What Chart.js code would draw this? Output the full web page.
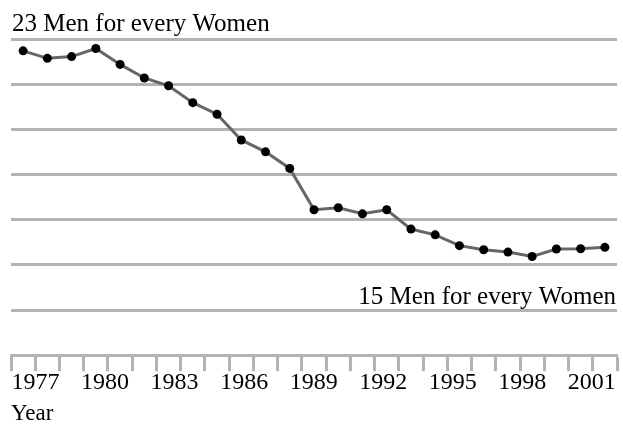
<!DOCTYPE html>
<html>
<head>
<meta charset="utf-8">
<script src="https://cdn.jsdelivr.net/npm/chart.js@4"></script>
<style>
  html, body { margin: 0; padding: 0; background: #fff; }
  #wrap { width: 623px; height: 425px; }
</style>
</head>
<body>
<div id="wrap"><canvas id="myChart"></canvas></div>
<script>
const years = [1977, 1978, 1979, 1980, 1981, 1982, 1983, 1984, 1985, 1986, 1987, 1988, 1989,
  1990, 1991, 1992, 1993, 1994, 1995, 1996, 1997, 1998, 1999, 2000, 2001];
const menPerWoman = [22.65, 22.43, 22.48, 22.72, 22.25, 21.85, 21.62, 21.12, 20.78, 20.02, 19.67, 19.18, 17.96,
  18.02, 17.84, 17.96, 17.39, 17.22, 16.90, 16.78, 16.71, 16.58, 16.80, 16.81, 16.85];
const yTicks = [41 / 3, 15, 49 / 3, 53 / 3, 19, 61 / 3, 65 / 3, 23];
const labelYears = [1977, 1980, 1983, 1986, 1989, 1992, 1995, 1998, 2001];
const labelRange = [1975.94, 2002.09];
const notes = [
  { value: 23, text: "23 Men for every Women", side: "left", lift: 8 },
  { value: 15, text: "15 Men for every Women", side: "right", lift: 6 },
];

const serif = "'Liberation Serif', 'Times New Roman', serif";
const gridGrey = "#b3b3b3";

// writes the two reference lines' captions just above their grid lines
const notesPlugin = {
  id: "notes",
  afterDraw(chart) {
    const ctx = chart.ctx;
    const y = chart.scales.y;
    const area = chart.chartArea;
    ctx.save();
    ctx.font = "25px " + serif;
    ctx.fillStyle = "#000";
    ctx.textBaseline = "alphabetic";
    notes.forEach((n) => {
      const py = y.getPixelForValue(n.value) - n.lift;
      if (n.side === "left") {
        ctx.textAlign = "left";
        ctx.fillText(n.text, area.left + 1, py);
      } else {
        ctx.textAlign = "right";
        ctx.fillText(n.text, area.right - 1, py);
      }
    });
    ctx.restore();
  },
};

const noSidePadding = (scale) => {
  scale.paddingLeft = 0;
  scale.paddingRight = 0;
};

function createChart(ctx) {
  new Chart(ctx, {
    type: "line",
    data: {
      labels: years,
      datasets: [
        {
          data: menPerWoman,
          borderColor: "#666",
          borderWidth: 3,
          pointRadius: 4.5,
          pointBackgroundColor: "#000",
          pointBorderColor: "#000",
          pointBorderWidth: 0,
          tension: 0,
        },
      ],
    },
    options: {
      responsive: true,
      maintainAspectRatio: false,
      animation: false,
      layout: { padding: { top: 39, left: 11, right: 6, bottom: 0 } },
      plugins: { legend: { display: false }, tooltip: { enabled: false } },
      scales: {
        x: {
          offset: true,
          afterFit: noSidePadding,
          grid: {
            offset: true,
            drawOnChartArea: false,
            drawTicks: true,
            tickLength: 16,
            tickWidth: 3,
            tickColor: gridGrey,
          },
          border: { display: true, color: gridGrey, width: 3 },
          ticks: { display: false },
        },
        x2: {
          type: "linear",
          position: "bottom",
          min: labelRange[0],
          max: labelRange[1],
          afterFit: noSidePadding,
          afterBuildTicks: (scale) => {
            scale.ticks = labelYears.map((v) => ({ value: v }));
          },
          grid: { display: false },
          border: { display: false },
          ticks: {
            autoSkip: false,
            maxRotation: 0,
            minRotation: 0,
            padding: -11,
            color: "#000",
            font: { family: serif, size: 24 },
            callback: (v) => String(v),
          },
          title: {
            display: true,
            text: "Year",
            align: "start",
            color: "#000",
            font: { family: serif, size: 23, lineHeight: 1 },
            padding: { top: 16, bottom: 0 },
          },
        },
        y: {
          min: yTicks[0],
          max: yTicks[yTicks.length - 1],
          afterBuildTicks: (scale) => {
            scale.ticks = yTicks.map((v) => ({ value: v }));
          },
          grid: { color: gridGrey, lineWidth: 3, drawTicks: false, tickLength: 0 },
          border: { display: false },
          ticks: { display: false },
        },
      },
    },
    plugins: [notesPlugin],
  });
}

createChart(document.getElementById("myChart").getContext("2d"));
</script>
</body>
</html>
